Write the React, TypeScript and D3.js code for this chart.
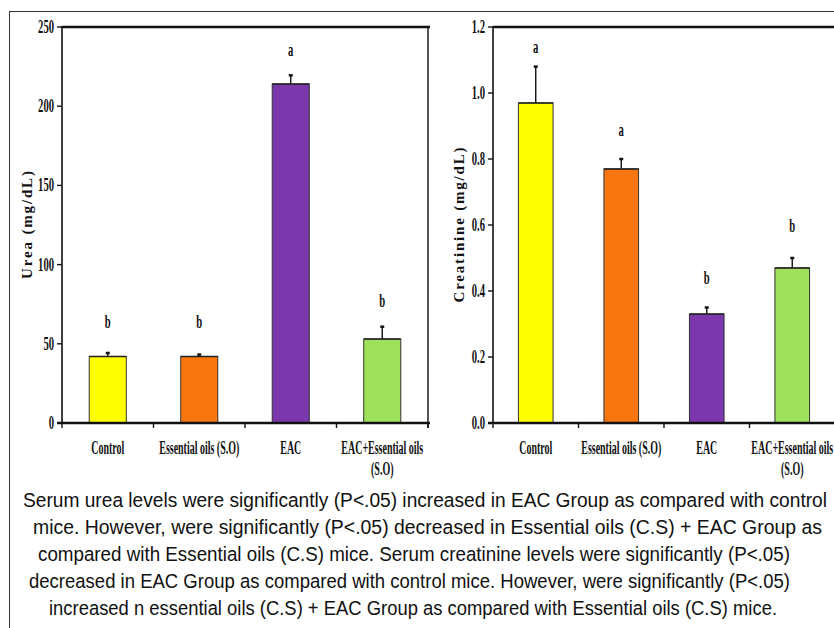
import React from "react";
import * as d3 from "d3";

const categories = ["Control", "Essential oils (S.O)", "EAC", "EAC+Essential oils|(S.O)"];
const colors = ["#FFFF00", "#F7760F", "#7B38AC", "#A0E15C"];

const ureaValues = [42, 42, 214, 53];
const ureaErrors = [2.2, 1.2, 5.5, 7.8];
const ureaLetters = ["b", "b", "a", "b"];
const ureaLetterPos = [60, 60, 232, 73];
const ureaTicks = [0, 50, 100, 150, 200, 250];

const creatValues = [0.97, 0.77, 0.33, 0.47];
const creatErrors = [0.11, 0.03, 0.02, 0.03];
const creatLetters = ["a", "a", "b", "b"];
const creatLetterPos = [1.12, 0.87, 0.42, 0.58];
const creatTicks = [0, 0.2, 0.4, 0.6, 0.8, 1.0, 1.2];

const captionLines = [
  "Serum urea levels were significantly (P<.05) increased in EAC Group as compared with control",
  "mice. However, were significantly (P<.05) decreased in Essential oils (C.S)  + EAC Group as",
  "compared with Essential oils (C.S) mice. Serum creatinine levels were significantly (P<.05)",
  "decreased in EAC Group as compared with control mice. However, were significantly (P<.05)",
  "increased n essential oils (C.S) + EAC Group as compared with Essential oils (C.S) mice.",
];
const captionStarts = [23, 33, 38, 29, 49];
const captionWidths = [804, 789, 752, 761, 728];

const SERIF = "'Liberation Serif', 'Times New Roman', serif";
const SANS = "'Liberation Sans', Arial, sans-serif";
const CAP_SX = 0.86;

function CondText({ x, y, anchor, children, size = 19, sx = 0.56 }: any) {
  return (
    <text
      transform={`translate(${x},${y}) scale(${sx},1)`}
      textAnchor={anchor}
      fontFamily={SERIF}
      fontWeight="bold"
      fontSize={size}
      fill="#111"
    >
      {children}
    </text>
  );
}

function Panel({ left, right, top, bottom, max, ticks, fmt, values, errors, letters, letterPos, title, titleX, titleLen, barFrac, drawRight }: any) {
  const x = d3.scaleBand().domain(categories).range([left, right]).padding(0);
  const y = d3.scaleLinear().domain([0, max]).range([bottom, top]);
  const bw = x.bandwidth() * barFrac;
  const boundaries = [...categories.map((c) => x(c) as number), right];
  return (
    <g>
      {categories.map((c, i) => {
        const cx = (x(c) as number) + x.bandwidth() / 2;
        const y0 = y(values[i]);
        const ye = y(values[i] + errors[i]);
        return (
          <g key={c}>
            <line x1={cx} x2={cx} y1={y0} y2={ye} stroke="#111" strokeWidth={1.4} />
            <line x1={cx - 2} x2={cx + 2} y1={ye} y2={ye} stroke="#111" strokeWidth={2.5} />
            <rect x={cx - bw / 2} y={y0} width={bw} height={bottom - y0} fill={colors[i]} stroke="#333" strokeWidth={1} />
            <line x1={cx - bw / 2} x2={cx + bw / 2} y1={y0} y2={y0} stroke="#222" strokeWidth={1.5} />
            <CondText x={cx} y={y(letterPos[i])} anchor="middle">{letters[i]}</CondText>
            {c.split("|").map((t: string, k: number) => (
              <CondText key={k} x={cx} y={bottom + 31 + k * 21} anchor="middle" sx={0.525}>{t}</CondText>
            ))}
          </g>
        );
      })}
      <line x1={left} x2={right + 2} y1={top} y2={top} stroke="#111" strokeWidth={2.5} />
      <line x1={left} x2={left} y1={top - 1} y2={bottom} stroke="#111" strokeWidth={1.6} />
      {drawRight && <line x1={right} x2={right} y1={top - 1} y2={bottom + 5} stroke="#111" strokeWidth={1.4} />}
      <line x1={left - 5} x2={right + 2} y1={bottom} y2={bottom} stroke="#111" strokeWidth={2.5} />
      {boundaries.map((b, i) => (
        <line key={i} x1={b} x2={b} y1={bottom} y2={bottom + 5} stroke="#111" strokeWidth={1.4} />
      ))}
      {ticks.map((t: number) => (
        <g key={t}>
          <line x1={left - 5} x2={left} y1={y(t)} y2={y(t)} stroke="#111" strokeWidth={1.4} />
          <CondText x={left - 8} y={y(t) + 6} anchor="end">{fmt(t)}</CondText>
        </g>
      ))}
      <text
        transform={`translate(${titleX},${(top + bottom) / 2}) rotate(-90)`}
        textAnchor="middle"
        fontFamily={SERIF}
        fontWeight="bold"
        fontSize={15}
        fill="#111"
        textLength={titleLen}
        lengthAdjust="spacing"
        dy="0.35em"
      >
        {title}
      </text>
    </g>
  );
}

export default function App() {
  return (
    <svg width={834} height={628} style={{ position: "absolute", left: 0, top: 0, background: "#fff" }}>
      <rect x={0} y={0} width={834} height={628} fill="#fff" />
      <rect x={9.5} y={11.5} width={900} height={700} fill="none" stroke="#333" strokeWidth={1} />
      <Panel
        left={62} right={428} top={27} bottom={423} max={250} ticks={ureaTicks}
        fmt={(t: number) => String(t)} values={ureaValues} errors={ureaErrors}
        letters={ureaLetters} letterPos={ureaLetterPos} title="Urea (mg/dL)" titleX={27}
        titleLen={108} barFrac={0.405} drawRight={true}
      />
      <Panel
        left={493} right={835} top={27} bottom={423} max={1.2} ticks={creatTicks}
        fmt={(t: number) => t.toFixed(1)} values={creatValues} errors={creatErrors}
        letters={creatLetters} letterPos={creatLetterPos} title="Creatinine (mg/dL)" titleX={459}
        titleLen={155} barFrac={0.405} drawRight={false}
      />
      {captionLines.map((l, i) => (
        <text
          key={i}
          transform={`translate(${captionStarts[i]},${507 + i * 27}) scale(${CAP_SX},1)`}
          textAnchor="start"
          fontFamily={SANS}
          fontSize={19.5}
          fill="#111"
          textLength={captionWidths[i] / CAP_SX}
          lengthAdjust="spacingAndGlyphs"
        >
          {l}
        </text>
      ))}
    </svg>
  );
}
